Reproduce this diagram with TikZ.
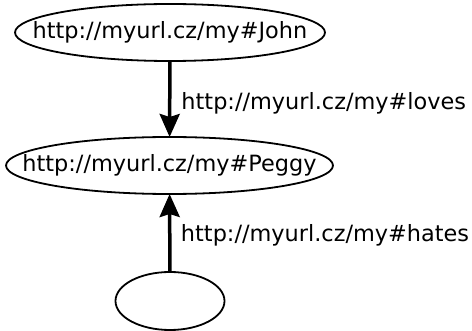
\documentclass[tikz,border=0pt]{standalone}
\usepackage{fontspec}
\setmainfont{DejaVu Sans}
\usetikzlibrary{shapes.geometric,arrows.meta}
\begin{document}
\begin{tikzpicture}[x=1pt,y=-1pt,
  txt/.style={font=\fontsize{22.4}{26}\selectfont, inner sep=0pt},
  every label/.style={txt},
  res/.style={ellipse, draw, line width=1.8pt, inner sep=0pt, outer sep=0pt},
  rel/.style={line width=3.5pt, -{Stealth[length=23pt,width=20pt,inset=3pt]}},
  lbl/.style={txt, anchor=base west}]
\useasboundingbox (0,0) rectangle (472,331);
\node[res, minimum width=310pt, minimum height=57pt, label={[txt]center:http://myurl.cz/my\#John}] (john) at (170,32.5) {};
\node[res, minimum width=327pt, minimum height=57pt, label={[txt]center:http://myurl.cz/my\#Peggy}] (peggy) at (169.5,165.5) {};
\node[res, minimum width=109pt, minimum height=58pt] (blank) at (170,301) {};
\draw[rel] (john) -- node[lbl, xshift=10pt, yshift=-11pt] {http://myurl.cz/my\#loves} (peggy);
\draw[rel] (blank) -- node[lbl, xshift=9.5pt, yshift=-9pt] {http://myurl.cz/my\#hates} (peggy);
\end{tikzpicture}
\end{document}
